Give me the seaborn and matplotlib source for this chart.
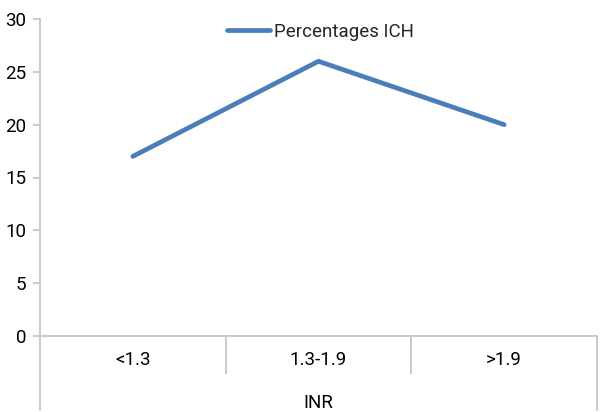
import matplotlib
matplotlib.use("Agg")
import matplotlib.pyplot as plt
import seaborn as sns
import pandas as pd
from matplotlib.ticker import FixedLocator

categories = ["<1.3", "1.3-1.9", ">1.9"]
percentages = [17, 26, 20]
yticks = [0, 5, 10, 15, 20, 25, 30]
series_name = "Percentages ICH"
x_title = "INR"

sns.set_theme(style="white")
plt.rcParams["font.family"] = ["Roboto", "DejaVu Sans"]

df = pd.DataFrame({"INR": categories, series_name: percentages})

fig = plt.figure(figsize=(6, 4.12), dpi=100)
ax = fig.add_axes([40/600, 76/412, 557/600, 317/412])

sns.lineplot(data=df, x="INR", y=series_name, ax=ax, color="#4a7ebb",
             linewidth=3.4, label=series_name, sort=False)

ax.set_xlim(-0.5, 2.5)
ax.set_ylim(0, 30)
ax.set_yticks(yticks)
ax.set_xticks(range(len(categories)))
ax.set_xticklabels(categories)
ax.xaxis.set_minor_locator(FixedLocator([0.5, 1.5]))

grey = "#c6c6c6"
ax.spines["top"].set_visible(False)
for s in ["left", "bottom", "right"]:
    ax.spines[s].set_color(grey)
    ax.spines[s].set_linewidth(1.3)
ax.spines["left"].set_bounds(-7, 30)
ax.spines["right"].set_bounds(-7, 0)

fs = 13.5
ax.tick_params(axis="y", which="major", length=5, width=1.3, color=grey,
               direction="out", pad=5, labelsize=fs, labelcolor="black", left=True)
ax.tick_params(axis="x", which="major", length=0, pad=11, labelsize=fs,
               labelcolor="black")
ax.tick_params(axis="x", which="minor", length=27.5, width=1.3, color=grey,
               direction="out", bottom=True)

ax.set_xlabel(x_title, fontsize=fs, color="black", labelpad=11)
ax.set_ylabel("")

leg = ax.legend(loc="center", bbox_to_anchor=(320/600, 1 - 32/412),
                bbox_transform=fig.transFigure, frameon=False, fontsize=fs,
                handlelength=2.3, handletextpad=0.2)

fig.savefig("out.png", dpi=100)
